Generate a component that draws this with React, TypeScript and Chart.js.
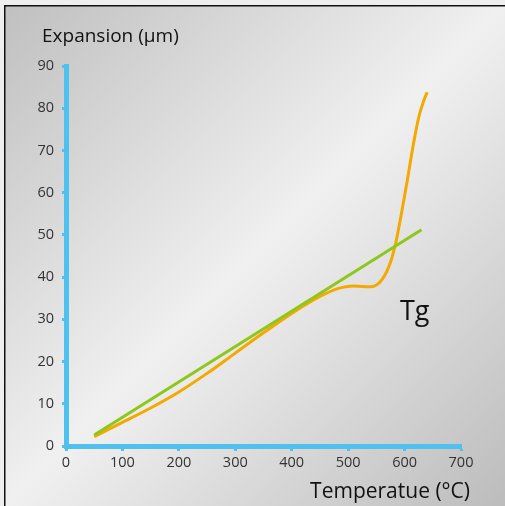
import React, { useEffect, useRef } from "react";
import { Chart, registerables } from "chart.js";

Chart.register(...registerables);

const orangeTemps = [50, 100, 150, 200, 250, 300, 350, 400, 450, 480, 510, 540, 560, 575, 585, 595, 605, 615, 625, 633, 640];
const orangeValues = [2.2, 5.6, 9.0, 12.8, 17.2, 22.0, 26.8, 31.4, 35.4, 37.2, 37.9, 37.7, 39.4, 43.5, 48.5, 55.5, 63, 71, 77.8, 81.4, 83.8];
const greenTemps = [50, 630];
const greenValues = [2.6, 51.2];
const xTicks = [0, 100, 200, 300, 400, 500, 600, 700];
const yTicks = [0, 10, 20, 30, 40, 50, 60, 70, 80, 90];

const yTitle = "Expansion (µm)";
const xTitle = "Temperatue (°C)";
const tgLabel = "Tg";

const FONT = "'Open Sans', 'Noto Sans', sans-serif";
const BLUE = "#4fc1f0";

export default function App() {
  const ref = useRef<HTMLCanvasElement | null>(null);
  useEffect(() => {
    document.body.style.margin = "0";
    const canvas = ref.current!;
    const bgPlugin = {
      id: "bg",
      beforeDraw(chart: any) {
        const ctx = chart.ctx;
        const w = chart.width, h = chart.height;
        ctx.save();
        ctx.fillStyle = "#eeeeee";
        ctx.fillRect(0, 0, w, h);
        const g = ctx.createLinearGradient(5, 6, w, h);
        g.addColorStop(0, "#c0c0c0");
        g.addColorStop(0.5, "#f0f0f0");
        g.addColorStop(1, "#bcbcbc");
        ctx.fillStyle = g;
        ctx.fillRect(5, 6, w - 5, h - 6);
        ctx.fillStyle = "#111";
        ctx.fillRect(4, 5, w - 4, 1.5);
        ctx.fillRect(4, 5, 1.5, h - 5);
        ctx.restore();
      },
      afterDraw(chart: any) {
        const ctx = chart.ctx;
        ctx.save();
        ctx.fillStyle = "#111";
        ctx.textBaseline = "alphabetic";
        ctx.textAlign = "left";
        ctx.font = `19px ${FONT}`;
        ctx.fillText(yTitle, 42, 41.5);
        ctx.textAlign = "right";
        ctx.font = `21px ${FONT}`;
        ctx.fillText(xTitle, 470, 498);
        ctx.textAlign = "left";
        ctx.font = `27px ${FONT}`;
        ctx.fillText(tgLabel, 400, 320);
        ctx.restore();
      },
    };
    const chart = new Chart(canvas, {
      type: "line",
      data: {
        datasets: [
          {
            data: greenTemps.map((t, i) => ({ x: t, y: greenValues[i] })),
            borderColor: "#8cc81c",
            borderWidth: 3,
            pointRadius: 0,
            tension: 0,
          },
          {
            data: orangeTemps.map((t, i) => ({ x: t, y: orangeValues[i] })),
            borderColor: "#f4a800",
            borderWidth: 3,
            pointRadius: 0,
            cubicInterpolationMode: "monotone",
          },
        ],
      },
      options: {
        responsive: false,
        animation: false,
        events: [],
        layout: { padding: { top: 66, right: 44, left: 0, bottom: 0 } },
        plugins: { legend: { display: false }, tooltip: { enabled: false } },
        scales: {
          x: {
            type: "linear",
            min: 0,
            max: 700,
            afterBuildTicks: (s: any) => { s.ticks = xTicks.map((v) => ({ value: v })); },
            afterFit: (s: any) => { s.height = 60; },
            border: { display: true, color: BLUE, width: 5 },
            grid: { drawOnChartArea: false, color: BLUE, tickLength: 5, tickWidth: 3 },
            ticks: { color: "#333", font: { family: FONT, size: 14.5 }, padding: 3, maxRotation: 0 },
          },
          y: {
            type: "linear",
            min: 0,
            max: 90,
            afterBuildTicks: (s: any) => { s.ticks = yTicks.map((v) => ({ value: v })); },
            afterFit: (s: any) => { s.width = 66; },
            border: { display: true, color: BLUE, width: 5 },
            grid: { drawOnChartArea: false, color: BLUE, tickLength: 4, tickWidth: 3 },
            ticks: { color: "#333", font: { family: FONT, size: 14.5 }, padding: 8 },
          },
        },
      },
      plugins: [bgPlugin],
    } as any);
    return () => chart.destroy();
  }, []);
  return (
    <div style={{ width: 505, height: 506 }}>
      <canvas ref={ref} width={505} height={506} style={{ display: "block" }} />
    </div>
  );
}
